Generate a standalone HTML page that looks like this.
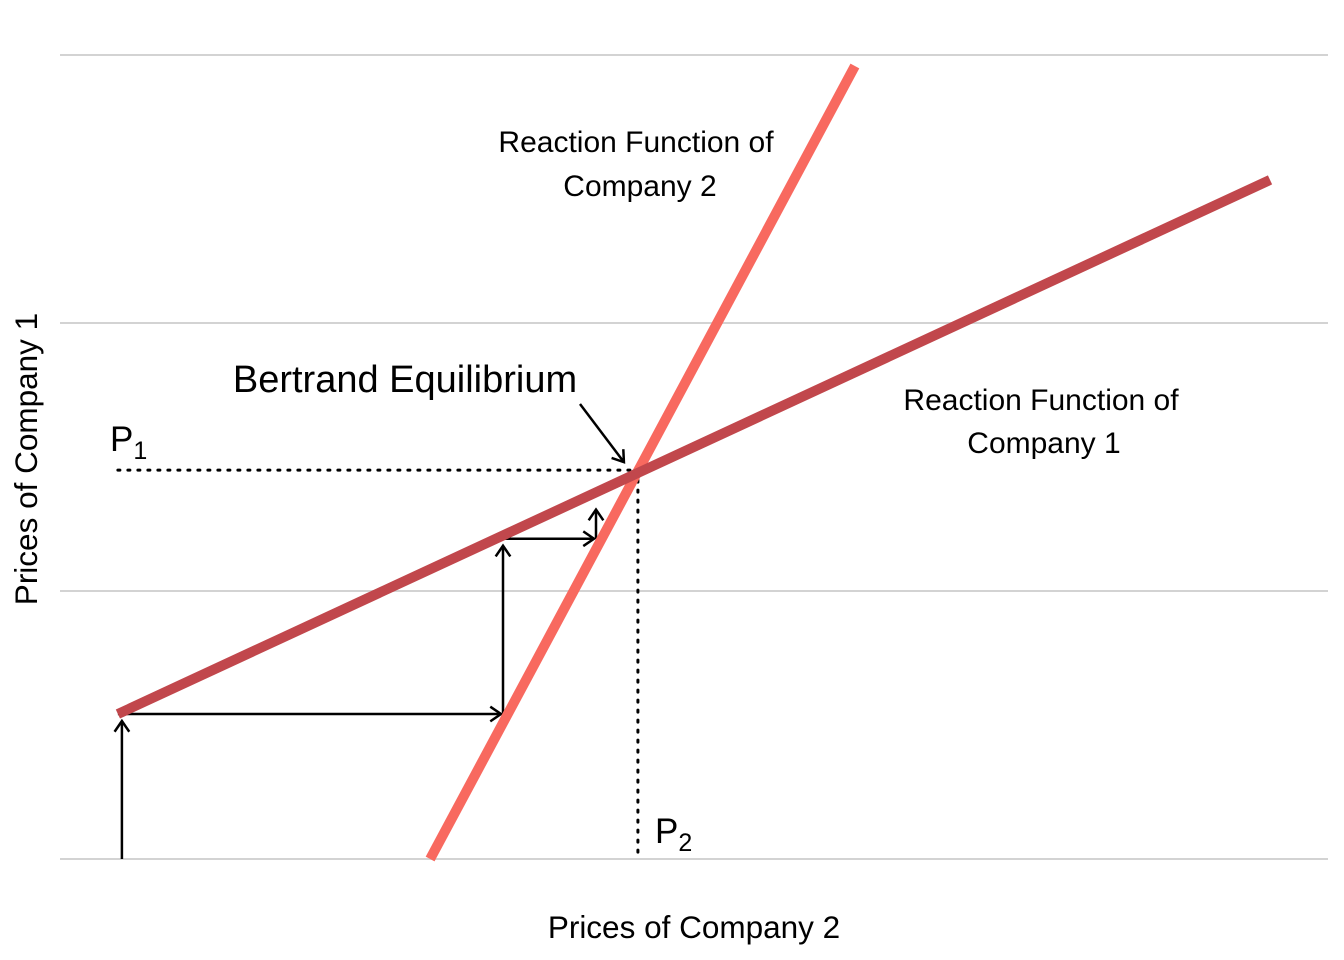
<!DOCTYPE html>
<html><head><meta charset="utf-8"><style>
body{margin:0;background:#fff}
svg{display:block;font-family:"Liberation Sans",Arial,sans-serif}
</style></head><body>
<svg id="chart" width="1344" height="960" viewBox="0 0 1344 960">
<g id="grid"></g>
<g id="marks"></g>
<text x="694" y="938" font-size="31.5" text-anchor="middle">Prices of Company 2</text>
<text transform="translate(37,459) rotate(-90)" font-size="31.5" text-anchor="middle">Prices of Company 1</text>
<text x="636" y="152" font-size="30" text-anchor="middle">Reaction Function of</text>
<text x="640" y="196" font-size="30" text-anchor="middle">Company 2</text>
<text x="1041" y="410" font-size="30" text-anchor="middle">Reaction Function of</text>
<text x="1044" y="453" font-size="30" text-anchor="middle">Company 1</text>
<text x="405" y="392" font-size="38" text-anchor="middle">Bertrand Equilibrium</text>
<text x="110" y="451" font-size="35">P<tspan font-size="25" dy="8">1</tspan></text>
<text x="655" y="843" font-size="35">P<tspan font-size="25" dy="8">2</tspan></text>
</svg>
<script>
const yTicks=[0,1,2,3];
const line1X=[0.216,4.515];
const line1Y=[0.541,2.534];
const line2X=[1.381,2.966];
const line2Y=[0,2.959];
const eqX=[2.134];
const eqY=[1.451];
const stepX=[0.231,0.231,1.653,1.653,2.0,2.0];
const stepY=[0,0.541,0.541,1.195,1.195,1.33];
const NS='http://www.w3.org/2000/svg';
const sx=v=>60+v*268, sy=v=>859-v*268;
function mk(tag,attrs,parent){const e=document.createElementNS(NS,tag);for(const k in attrs)e.setAttribute(k,attrs[k]);parent.appendChild(e);return e;}
const grid=document.getElementById('grid'),marks=document.getElementById('marks');
yTicks.forEach(t=>{const l=mk('line',{x1:60,x2:1328,y1:sy(t),y2:sy(t),stroke:'#d3d3d3','stroke-width':2},grid);

});
const dh=mk('line',{x1:sx(line1X[0]),x2:sx(eqX[0]),y1:sy(eqY[0]),y2:sy(eqY[0]),stroke:'#000','stroke-width':3,'stroke-dasharray':'2 8','stroke-linecap':'round'},marks);


const dv=mk('line',{x1:sx(eqX[0])+6,x2:sx(eqX[0])+6,y1:sy(eqY[0]),y2:sy(0),stroke:'#000','stroke-width':3,'stroke-dasharray':'2 8','stroke-linecap':'round'},marks);


function arrow(x1,y1,x2,y2){const g=mk('g',{},marks);


mk('line',{x1,y1,x2,y2,stroke:'#000','stroke-width':2.5},g);
const a=Math.atan2(y2-y1,x2-x1),L=13,s=0.6;
mk('polyline',{points:`${x2-L*Math.cos(a-s)},${y2-L*Math.sin(a-s)} ${x2},${y2} ${x2-L*Math.cos(a+s)},${y2-L*Math.sin(a+s)}`,fill:'none',stroke:'#000','stroke-width':2.5},g);}
for(let i=0;i<stepX.length-1;i++){let x1=sx(stepX[i]),y1=sy(stepY[i]),x2=sx(stepX[i+1]),y2=sy(stepY[i+1]);
if(y1===y2){x1-=4;x2-=2;}else{y2+=7;}
arrow(x1,y1,x2,y2);}
arrow(580,404,sx(eqX[0])-8,sy(eqY[0])-8);
const l2=mk('line',{x1:sx(line2X[0]),y1:sy(line2Y[0]),x2:sx(line2X[1]),y2:sy(line2Y[1]),stroke:'#f8695f','stroke-width':10},marks);


const l1=mk('line',{x1:sx(line1X[0]),y1:sy(line1Y[0]),x2:sx(line1X[1]),y2:sy(line1Y[1]),stroke:'#c1474c','stroke-width':10},marks);


</script>
</body></html>
